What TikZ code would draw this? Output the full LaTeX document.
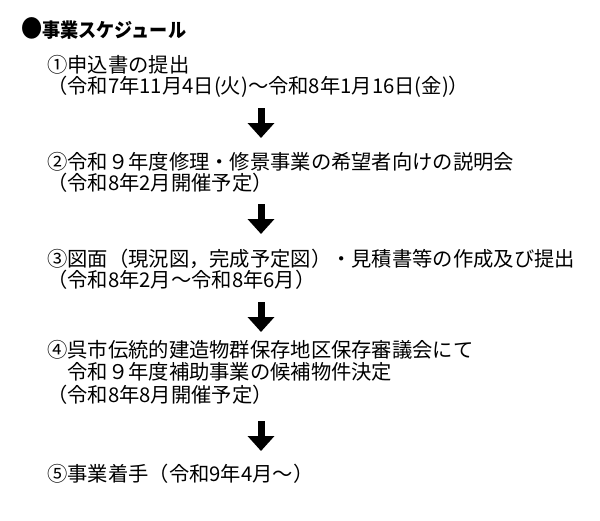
\documentclass[tikz,border=0pt]{standalone}
\usepackage{fontspec}
\setmainfont{Noto Sans CJK JP}
\usetikzlibrary{arrows.meta}
\tikzset{
  body/.style={anchor=base west, inner sep=0pt, font=\fontsize{20.3}{21.5}\selectfont},
  titletext/.style={anchor=base west, inner sep=0pt, font=\fontsize{19.5}{22}\selectfont\bfseries},
  blockarrow/.style={line width=7pt, -{Triangle[width=26pt,length=15pt]}, black}
}
\begin{document}
\begin{tikzpicture}[x=1pt,y=-1pt]
\useasboundingbox (0,0) rectangle (600,520);
\node[titletext] (title) at (21,37.4) {\scalebox{0.88}[1]{\fontsize{24}{24}\selectfont ●}\scalebox{0.93}[1]{事業スケジュール}};
\node[body] (s1a) at (47,72.5) {①申込書の提出};
\node[body] (s1b) at (47,93.5) {（令和7年11月4日(火)～令和8年1月16日(金)）};
\node[body] (s2a) at (47,169.5) {②令和９年度修理・修景事業の希望者向けの説明会};
\node[body] (s2b) at (47,190.5) {（令和8年2月開催予定）};
\node[body] (s3a) at (47,266.5) {③図面（現況図，完成予定図）・見積書等の作成及び提出};
\node[body] (s3b) at (47,287.5) {（令和8年2月～令和8年6月）};
\node[body] (s4a) at (47,357.5) {④呉市伝統的建造物群保存地区保存審議会にて};
\node[body] (s4b) at (47,379.5) {　令和９年度補助事業の候補物件決定};
\node[body] (s4c) at (47,402.5) {（令和8年8月開催予定）};
\node[body] (s5a) at (47,481.5) {⑤事業着手（令和9年4月～）};
\coordinate (a1s) at (261,108); \coordinate (a1e) at (261,138);
\coordinate (a2s) at (261,204); \coordinate (a2e) at (261,234);
\coordinate (a3s) at (261,302); \coordinate (a3e) at (261,332);
\coordinate (a4s) at (261,421); \coordinate (a4e) at (261,451);
\draw[blockarrow] (a1s) -- (a1e);
\draw[blockarrow] (a2s) -- (a2e);
\draw[blockarrow] (a3s) -- (a3e);
\draw[blockarrow] (a4s) -- (a4e);
\end{tikzpicture}
\end{document}
